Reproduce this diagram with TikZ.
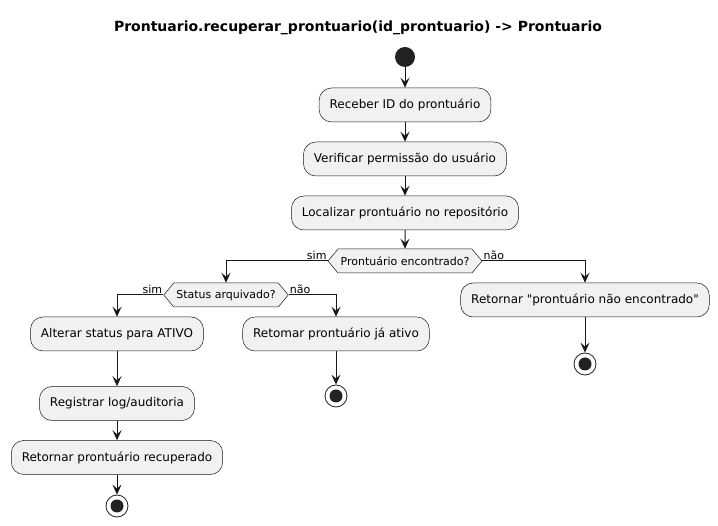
\documentclass[tikz,border=0pt]{standalone}
\usepackage{fontspec}
\setmainfont{DejaVu Sans}
\usetikzlibrary{arrows.meta,shapes.symbols}
\definecolor{boxfill}{HTML}{F1F1F1}
\definecolor{boxline}{HTML}{181818}
\definecolor{dotfill}{HTML}{222222}

\begin{document}
\begin{tikzpicture}[x=1pt,y=-1pt,
  act/.style={draw=boxline, line width=0.5pt, fill=boxfill, rounded corners=12.5pt,
    minimum height=34pt, inner xsep=10.5pt, font=\fontsize{12}{14}\selectfont},
  choice/.style={signal, signal to=west and east, signal pointer angle=100,
    draw=boxline, line width=0.5pt, fill=boxfill, minimum height=24pt,
    inner xsep=2.5pt, inner ysep=0pt, font=\fontsize{11}{13}\selectfont},
  startdot/.style={circle, fill=dotfill, minimum size=20pt, inner sep=0pt},
  stopdot/.style={circle, draw=dotfill, fill=white, line width=0.8pt, minimum size=22pt,
    inner sep=0pt, path picture={\fill[dotfill] (path picture bounding box.center) circle (6.5pt);}},
  flow/.style={-{Stealth[length=10pt,width=9pt,inset=4pt]}, draw=boxline, line width=1pt},
  lbl/.style={font=\fontsize{11}{13}\selectfont, inner sep=1pt}]

\useasboundingbox (0,0) rectangle (718,526);

% Title
\node[font=\fontsize{14}{16}\selectfont\bfseries] (title) at (358,28)
  {Prontuario.recuperar\_prontuario(id\_prontuario) -> Prontuario};

% Main column
\node[startdot] (start) at (405,57) {};
\node[act] (recv) at (405,105) {Receber ID do prontuário};
\node[act] (perm) at (405,159) {Verificar permissão do usuário};
\node[act] (loc) at (405,213) {Localizar prontuário no repositório};
\node[choice] (found) at (405,261) {Prontuário encontrado?};

% sim: check status
\node[choice] (arch) at (226,295) {Status arquivado?};
\node[act] (ativo) at (117,334) {Alterar status para ATIVO};
\node[act] (log) at (117,403.5) {Registrar log/auditoria};
\node[act] (recup) at (117,457.5) {Retornar prontuário recuperado};
\node[stopdot] (stop1) at (117,506) {};
\node[act] (jaativo) at (336,334) {Retomar prontuário já ativo};
\node[stopdot] (stop2) at (336,396) {};

% não: not found
\node[act] (naoenc) at (585,300) {Retornar \textquotedbl prontuário não encontrado\textquotedbl};
\node[stopdot] (stop3) at (585,364) {};

% Flows
\draw[flow] (start) -- (recv);
\draw[flow] (recv) -- (perm);
\draw[flow] (perm) -- (loc);
\draw[flow] (loc) -- (found);
\draw[flow] (found.west) -| (arch.north);
\draw[flow] (found.east) -| (naoenc.north);
\draw[flow] (arch.west) -| (ativo.north);
\draw[flow] (arch.east) -| (jaativo.north);
\draw[flow] (ativo) -- (log);
\draw[flow] (log) -- (recup);
\draw[flow] (recup) -- (stop1);
\draw[flow] (jaativo) -- (stop2);
\draw[flow] (naoenc) -- (stop3);

% Branch labels
\node[lbl, anchor=south east] (simA) at (found.west) {sim};
\node[lbl, anchor=south west] (naoA) at (found.east) {não};
\node[lbl, anchor=south east] (simB) at (arch.west) {sim};
\node[lbl, anchor=south west] (naoB) at (arch.east) {não};
\end{tikzpicture}
\end{document}
